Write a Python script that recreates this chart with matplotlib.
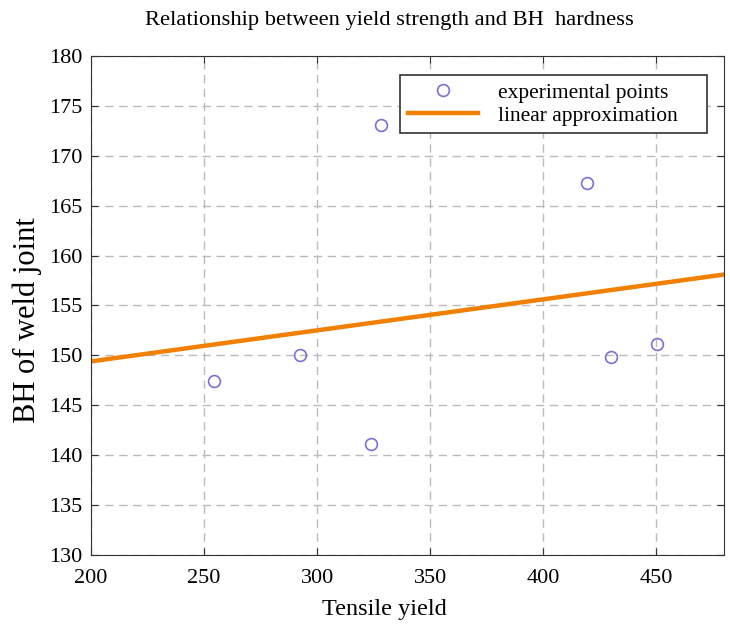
import numpy as np
import matplotlib.pyplot as plt

plt.rcParams['font.family'] = ['Liberation Serif', 'DejaVu Serif']

tensile_yield = [254.5, 292.5, 324.0, 328.3, 419.5, 430.0, 450.4]
bh_hardness = [147.4, 150.0, 141.1, 173.1, 167.3, 149.8, 151.1]

# linear approximation endpoints
fit_x = [200, 480]
fit_y = [149.4, 158.1]

xticks = [200, 250, 300, 350, 400, 450]
yticks = [130, 135, 140, 145, 150, 155, 160, 165, 170, 175, 180]

fig = plt.figure(figsize=(7.3, 6.24), dpi=100)
ax = fig.add_axes([0.1247, 0.1106, 0.8671, 0.7997])

ax.plot(tensile_yield, bh_hardness, 'o', mfc='none', mec='#7f6fd4',
        ms=8.5, mew=1.2, label='experimental points', zorder=3)
ax.plot(fit_x, fit_y, '-', color='#f28000', lw=3.2,
        label='linear approximation    ', zorder=2)

ax.set_xlim(200, 480)
ax.set_ylim(130, 180)
ax.set_xticks(xticks)
ax.set_yticks(yticks)
ax.tick_params(direction='in', labelsize=16, top=True, right=True,
               length=5, color='#333333')
ax.tick_params(axis='x', pad=10)
ax.tick_params(axis='y', pad=6)
ax.grid(True, linestyle=(0, (6, 4)), color='#bbbbbb', lw=1)
for s in ax.spines.values():
    s.set_color('#333333')

ax.set_xlabel('Tensile yield', fontsize=17.5, va='center')
ax.xaxis.set_label_coords(0.463, -0.11)
ax.set_ylabel('BH of weld joint', fontsize=22, va='center')
ax.yaxis.set_label_coords(-0.1, 0.47)
fig.text(389 / 730, 1 - 20 / 624,
         'Relationship between yield strength and BH  hardness',
         fontsize=16.2, ha='center', va='center')

leg = ax.legend(loc='upper right', fontsize=15.5, fancybox=False,
                edgecolor='#333333', framealpha=1, borderpad=0.35,
                labelspacing=0.15, handlelength=3.25, handletextpad=0.95,
                borderaxespad=0, bbox_to_anchor=(0.973, 0.962))
leg.get_frame().set_linewidth(1.2)

fig.savefig('out.png', dpi=100)
